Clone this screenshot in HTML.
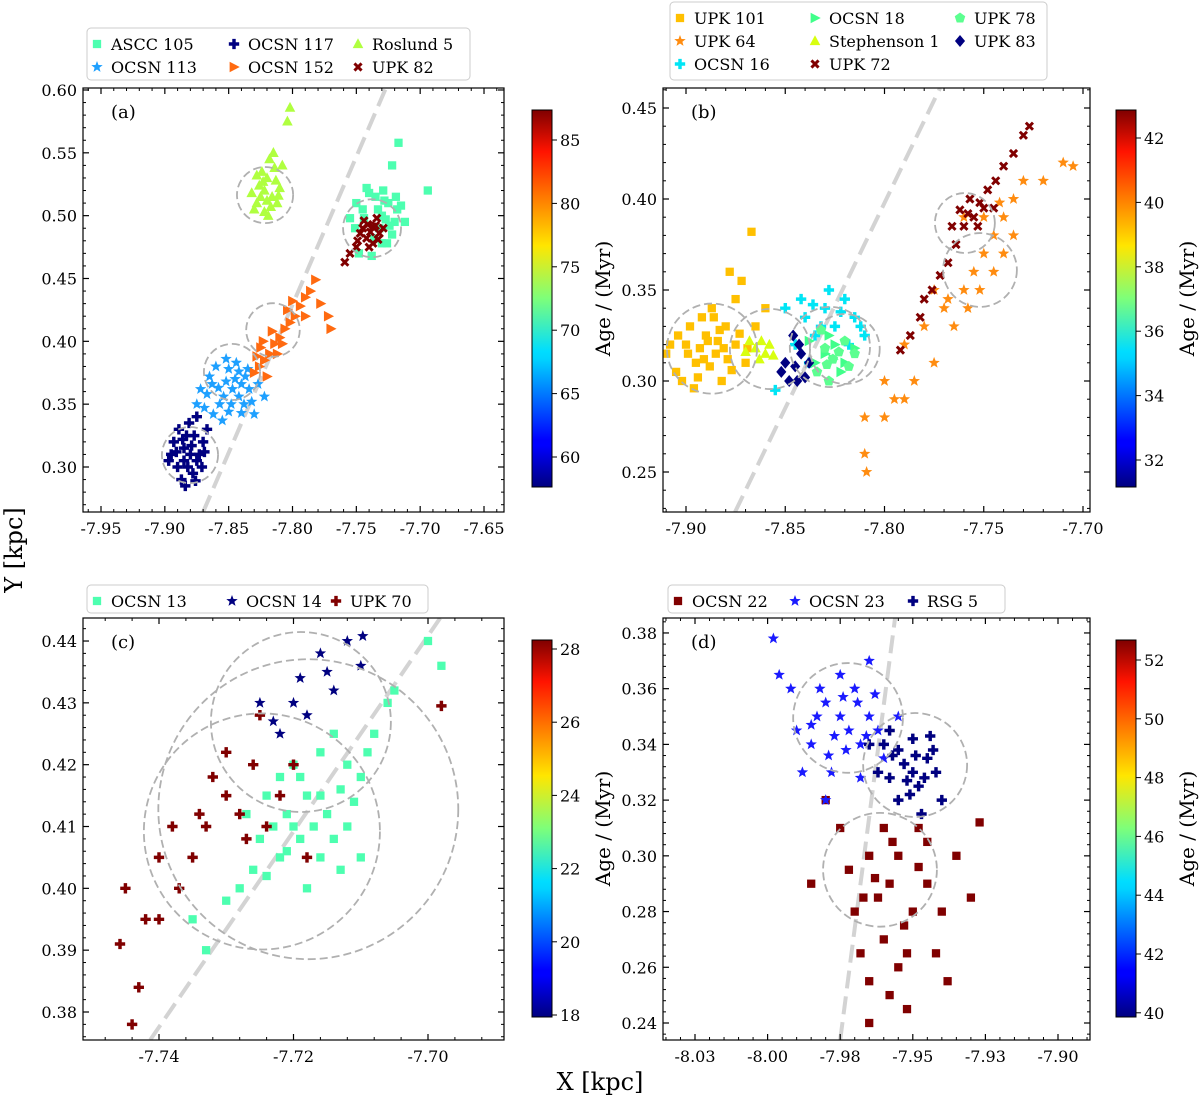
<!DOCTYPE html>
<html><head><meta charset="utf-8"><style>
html,body{margin:0;padding:0;background:#fff;}
svg{display:block;font-family:"DejaVu Serif","Liberation Serif",serif;}
</style></head><body>
<svg id="chart" width="1200" height="1103" viewBox="0 0 1200 1103" xmlns="http://www.w3.org/2000/svg">
<defs>
<linearGradient id="jet" x1="0" y1="1" x2="0" y2="0">
<stop offset="0" stop-color="#00007f"/><stop offset="0.11" stop-color="#0000ff"/><stop offset="0.125" stop-color="#0000ff"/>
<stop offset="0.34" stop-color="#00d4ff"/><stop offset="0.36" stop-color="#0df"/><stop offset="0.5" stop-color="#7dff7a"/>
<stop offset="0.64" stop-color="#ffe600"/><stop offset="0.89" stop-color="#ff1300"/><stop offset="1" stop-color="#7f0000"/>
</linearGradient>
<clipPath id="clipA"><rect x="83" y="88" width="421" height="424"/></clipPath>
<clipPath id="clipB"><rect x="663" y="88" width="427" height="424"/></clipPath>
<clipPath id="clipC"><rect x="83" y="618" width="421" height="422"/></clipPath>
<clipPath id="clipD"><rect x="663" y="618" width="427" height="422"/></clipPath>
</defs>
<g id="root"></g>
<text x="600" y="1090" font-size="24" text-anchor="middle">X [kpc]</text>
<text x="0" y="0" font-size="24" text-anchor="middle" transform="translate(22,550) rotate(-90)">Y [kpc]</text>
</svg>
<script>
// ---------- Panel (a) data ----------
const ros5 = [[-7.822,0.52],[-7.828,0.51],[-7.816,0.515],[-7.82,0.53],[-7.83,0.505],[-7.812,0.51],[-7.824,0.535],[-7.818,0.545],[-7.832,0.518],[-7.81,0.522],[-7.822,0.503],[-7.814,0.538],[-7.826,0.524],[-7.82,0.512],[-7.802,0.586],[-7.804,0.575],[-7.815,0.55],[-7.828,0.532],[-7.819,0.5],[-7.825,0.515],[-7.813,0.528],[-7.808,0.54],[-7.817,0.507],[-7.823,0.527],[-7.811,0.516]];
const ascc105 = [[-7.73,0.5],[-7.725,0.51],[-7.735,0.515],[-7.72,0.495],[-7.717,0.558],[-7.694,0.52],[-7.745,0.505],[-7.73,0.478],[-7.722,0.485],[-7.75,0.51],[-7.755,0.498],[-7.728,0.512],[-7.718,0.505],[-7.74,0.518],[-7.732,0.49],[-7.722,0.54],[-7.715,0.508],[-7.748,0.47],[-7.738,0.468],[-7.727,0.497],[-7.712,0.495],[-7.742,0.522],[-7.733,0.505],[-7.724,0.492],[-7.736,0.482],[-7.744,0.498],[-7.719,0.515],[-7.729,0.52],[-7.751,0.49],[-7.726,0.478]];
const upk82 = [[-7.739,0.487],[-7.742,0.482],[-7.735,0.492],[-7.745,0.49],[-7.732,0.486],[-7.737,0.478],[-7.744,0.496],[-7.749,0.48],[-7.755,0.47],[-7.759,0.463],[-7.734,0.498],[-7.74,0.475],[-7.729,0.49],[-7.747,0.486],[-7.737,0.491],[-7.75,0.475],[-7.741,0.493],[-7.733,0.481]];
const ocsn152 = [[-7.83,0.375],[-7.826,0.38],[-7.822,0.385],[-7.818,0.39],[-7.825,0.395],[-7.814,0.398],[-7.81,0.403],[-7.806,0.41],[-7.802,0.415],[-7.798,0.42],[-7.794,0.428],[-7.79,0.435],[-7.786,0.44],[-7.782,0.449],[-7.778,0.43],[-7.772,0.42],[-7.77,0.41],[-7.812,0.39],[-7.82,0.372],[-7.808,0.398],[-7.8,0.432],[-7.828,0.388],[-7.79,0.42],[-7.816,0.408],[-7.804,0.425],[-7.823,0.4]];
const ocsn113 = [[-7.847,0.362],[-7.852,0.368],[-7.842,0.356],[-7.857,0.35],[-7.837,0.372],[-7.862,0.342],[-7.832,0.352],[-7.85,0.378],[-7.867,0.358],[-7.844,0.383],[-7.827,0.366],[-7.855,0.337],[-7.872,0.362],[-7.84,0.343],[-7.86,0.38],[-7.834,0.362],[-7.865,0.372],[-7.822,0.356],[-7.848,0.35],[-7.852,0.386],[-7.875,0.35],[-7.83,0.342],[-7.84,0.366],[-7.858,0.363],[-7.845,0.37],[-7.854,0.356],[-7.838,0.35],[-7.863,0.366],[-7.85,0.344],[-7.842,0.376],[-7.869,0.347],[-7.835,0.378]];
const ocsn117 = [[-7.88,0.31],[-7.885,0.315],[-7.875,0.305],[-7.89,0.3],[-7.87,0.32],[-7.883,0.325],[-7.895,0.31],[-7.878,0.295],[-7.873,0.31],[-7.887,0.29],[-7.881,0.335],[-7.893,0.32],[-7.867,0.33],[-7.885,0.305],[-7.875,0.34],[-7.897,0.305],[-7.871,0.3],[-7.889,0.33],[-7.879,0.317],[-7.884,0.285],[-7.877,0.325],[-7.891,0.312],[-7.882,0.3],[-7.869,0.312],[-7.886,0.322],[-7.876,0.289]];
const circlesA = [[-7.8215,0.5164,0.022],[-7.7377,0.490,0.0227],[-7.8153,0.409,0.021],[-7.8474,0.3756,0.022],[-7.8803,0.3095,0.022]];
const lineA = [[-7.870,0.2642],[-7.7268,0.6016]];
const xTicksA = [-7.95,-7.90,-7.85,-7.80,-7.75,-7.70,-7.65];
const yTicksA = [0.30,0.35,0.40,0.45,0.50,0.55,0.60];
const cbTicksA = [60,65,70,75,80,85];

// ---------- Panel (b) data ----------
const upk101 = [[-7.9,0.32],[-7.895,0.31],[-7.89,0.325],[-7.885,0.315],[-7.88,0.33],[-7.875,0.32],[-7.905,0.305],[-7.91,0.315],[-7.87,0.31],[-7.892,0.335],[-7.882,0.3],[-7.898,0.33],[-7.887,0.34],[-7.875,0.345],[-7.867,0.382],[-7.878,0.36],[-7.915,0.33],[-7.902,0.3],[-7.865,0.33],[-7.893,0.318],[-7.872,0.355],[-7.884,0.322],[-7.908,0.32],[-7.896,0.296],[-7.86,0.34],[-7.888,0.308],[-7.879,0.312],[-7.891,0.312],[-7.883,0.328],[-7.877,0.306],[-7.899,0.315],[-7.873,0.326],[-7.886,0.335],[-7.894,0.302],[-7.881,0.318],[-7.904,0.325],[-7.869,0.318],[-7.889,0.322]];
const upk64 = [[-7.81,0.28],[-7.8,0.28],[-7.795,0.29],[-7.8,0.3],[-7.79,0.32],[-7.785,0.3],[-7.78,0.33],[-7.775,0.31],[-7.77,0.34],[-7.765,0.33],[-7.76,0.35],[-7.755,0.36],[-7.75,0.37],[-7.745,0.38],[-7.74,0.39],[-7.735,0.4],[-7.73,0.41],[-7.72,0.41],[-7.71,0.42],[-7.705,0.418],[-7.81,0.26],[-7.809,0.25],[-7.79,0.29],[-7.775,0.35],[-7.76,0.39],[-7.75,0.39],[-7.745,0.36],[-7.74,0.37],[-7.735,0.38],[-7.768,0.345],[-7.758,0.34],[-7.752,0.35],[-7.742,0.398]];
const ocsn16 = [[-7.835,0.325],[-7.84,0.335],[-7.83,0.34],[-7.825,0.33],[-7.845,0.32],[-7.82,0.345],[-7.828,0.35],[-7.815,0.335],[-7.81,0.325],[-7.85,0.34],[-7.838,0.31],[-7.855,0.295],[-7.818,0.32],[-7.842,0.345],[-7.812,0.33],[-7.832,0.33],[-7.822,0.338],[-7.836,0.342]];
const ocsn18 = [[-7.83,0.315],[-7.825,0.32],[-7.835,0.31],[-7.82,0.31],[-7.828,0.325],[-7.815,0.318],[-7.838,0.322],[-7.822,0.305],[-7.826,0.312]];
const steph1 = [[-7.865,0.318],[-7.86,0.315],[-7.868,0.322],[-7.858,0.32],[-7.863,0.312],[-7.87,0.316],[-7.856,0.314],[-7.862,0.322]];
const upk72 = [[-7.792,0.317],[-7.787,0.325],[-7.782,0.335],[-7.78,0.345],[-7.776,0.35],[-7.772,0.358],[-7.768,0.365],[-7.764,0.375],[-7.76,0.385],[-7.762,0.394],[-7.755,0.39],[-7.752,0.398],[-7.748,0.405],[-7.744,0.41],[-7.74,0.418],[-7.735,0.425],[-7.757,0.4],[-7.766,0.385],[-7.75,0.395],[-7.73,0.435],[-7.727,0.44],[-7.745,0.395],[-7.758,0.392],[-7.753,0.385]];
const upk78 = [[-7.83,0.318],[-7.826,0.312],[-7.834,0.305],[-7.82,0.322],[-7.818,0.308],[-7.828,0.3],[-7.815,0.315],[-7.832,0.328],[-7.823,0.316],[-7.829,0.309]];
const upk83 = [[-7.845,0.308],[-7.848,0.3],[-7.842,0.315],[-7.85,0.31],[-7.84,0.302],[-7.843,0.32],[-7.852,0.305],[-7.838,0.31],[-7.846,0.325],[-7.844,0.3]];
const circlesB = [[-7.8869,0.3178,0.0227],[-7.8577,0.3176,0.0202],[-7.8275,0.3187,0.0202],[-7.82,0.3176,0.0176],[-7.7595,0.3868,0.0151],[-7.7519,0.361,0.0186]];
const lineB = [[-7.8753,0.228],[-7.772,0.461]];
const xTicksB = [-7.90,-7.85,-7.80,-7.75,-7.70];
const yTicksB = [0.25,0.30,0.35,0.40,0.45];
const cbTicksB = [32,34,36,38,40,42];

// ---------- Panel (c) data ----------
const ocsn13 = [[-7.72,0.41],[-7.718,0.415],[-7.715,0.412],[-7.722,0.405],[-7.725,0.408],[-7.712,0.42],[-7.71,0.418],[-7.716,0.405],[-7.72,0.42],[-7.714,0.425],[-7.708,0.425],[-7.728,0.4],[-7.73,0.398],[-7.724,0.415],[-7.706,0.43],[-7.718,0.4],[-7.712,0.41],[-7.722,0.418],[-7.735,0.395],[-7.733,0.39],[-7.7,0.44],[-7.698,0.436],[-7.705,0.432],[-7.71,0.405],[-7.726,0.403],[-7.716,0.422],[-7.719,0.408],[-7.713,0.416],[-7.721,0.412],[-7.717,0.41],[-7.723,0.41],[-7.714,0.408],[-7.711,0.414],[-7.719,0.418],[-7.724,0.402],[-7.716,0.415],[-7.709,0.422],[-7.721,0.406],[-7.727,0.412],[-7.713,0.403]];
const ocsn14 = [[-7.72,0.43],[-7.715,0.435],[-7.712,0.44],[-7.7097,0.4408],[-7.71,0.436],[-7.722,0.425],[-7.718,0.428],[-7.725,0.43],[-7.714,0.432],[-7.716,0.438],[-7.719,0.434],[-7.723,0.427]];
const upk70 = [[-7.744,0.378],[-7.7458,0.391],[-7.743,0.384],[-7.745,0.4],[-7.742,0.395],[-7.74,0.405],[-7.738,0.41],[-7.735,0.405],[-7.733,0.41],[-7.73,0.415],[-7.728,0.412],[-7.726,0.42],[-7.724,0.41],[-7.722,0.415],[-7.72,0.42],[-7.718,0.405],[-7.73,0.422],[-7.725,0.428],[-7.74,0.395],[-7.737,0.4],[-7.732,0.418],[-7.698,0.4295],[-7.727,0.408],[-7.734,0.412]];
const circlesC = [[-7.7189,0.4269,0.01338],[-7.7178,0.4128,0.0223],[-7.7247,0.4092,0.01755]];
const lineC = [[-7.7413,0.3755],[-7.6982,0.4437]];
const xTicksC = [-7.74,-7.72,-7.70];
const yTicksC = [0.38,0.39,0.40,0.41,0.42,0.43,0.44];
const cbTicksC = [20,22,24,26,28,18];

// ---------- Panel (d) data ----------
const ocsn22 = [[-7.958,0.29],[-7.955,0.3],[-7.962,0.285],[-7.95,0.28],[-7.965,0.3],[-7.945,0.29],[-7.96,0.27],[-7.955,0.26],[-7.965,0.255],[-7.952,0.265],[-7.94,0.28],[-7.935,0.3],[-7.97,0.28],[-7.975,0.31],[-7.98,0.32],[-7.948,0.31],[-7.958,0.25],[-7.965,0.24],[-7.942,0.265],[-7.93,0.285],[-7.927,0.312],[-7.96,0.31],[-7.985,0.29],[-7.938,0.255],[-7.952,0.245],[-7.968,0.265],[-7.945,0.305],[-7.972,0.295],[-7.963,0.292],[-7.953,0.275],[-7.948,0.296],[-7.957,0.305],[-7.967,0.285]];
const ocsn23 = [[-7.972,0.345],[-7.975,0.35],[-7.968,0.34],[-7.98,0.355],[-7.965,0.35],[-7.985,0.34],[-7.97,0.36],[-7.978,0.33],[-7.962,0.345],[-7.99,0.345],[-7.975,0.365],[-7.968,0.328],[-7.96,0.335],[-7.983,0.35],[-7.992,0.36],[-7.998,0.378],[-7.996,0.365],[-7.965,0.37],[-7.98,0.32],[-7.955,0.35],[-7.988,0.33],[-7.973,0.338],[-7.977,0.343],[-7.969,0.355],[-7.982,0.36],[-7.966,0.343],[-7.974,0.357],[-7.985,0.347],[-7.963,0.358],[-7.979,0.336]];
const rsg5 = [[-7.953,0.333],[-7.95,0.33],[-7.957,0.336],[-7.948,0.325],[-7.96,0.34],[-7.945,0.335],[-7.955,0.32],[-7.942,0.33],[-7.962,0.33],[-7.95,0.342],[-7.958,0.345],[-7.94,0.32],[-7.947,0.315],[-7.965,0.34],[-7.952,0.327],[-7.944,0.343],[-7.955,0.338],[-7.949,0.336],[-7.946,0.328],[-7.958,0.328],[-7.951,0.322],[-7.943,0.338]];
const circlesD = [[-7.9723,0.3495,0.0189],[-7.9492,0.3326,0.0179],[-7.9613,0.295,0.0196]];
const lineD = [[-7.975,0.2339],[-7.9561,0.3854]];
const xTicksD = [-8.025,-8.0,-7.975,-7.95,-7.925,-7.9];
const xTickLabelsD = ["-8.03","-8.00","-7.98","-7.95","-7.93","-7.90"];
const yTicksD = [0.24,0.26,0.28,0.30,0.32,0.34,0.36,0.38];
const cbTicksD = [40,42,44,46,48,50,52];

const NS = "http://www.w3.org/2000/svg";
const root = document.getElementById('root');
function mk(tag, attrs, parent){ const e=document.createElementNS(NS,tag); for(const k in attrs) e.setAttribute(k,attrs[k]); (parent||root).appendChild(e); return e; }

function markerPath(type){
  switch(type){
    case 'square': return 'M-3.6,-3.6H3.6V3.6H-3.6Z';
    case 'star': { let p=''; for(let i=0;i<10;i++){const r=i%2?2.2:5.2; const a=-Math.PI/2+i*Math.PI/5; p+=(i?'L':'M')+(r*Math.cos(a)).toFixed(2)+','+(r*Math.sin(a)).toFixed(2);} return p+'Z'; }
    case 'plus': return 'M-1.5,-4.5H1.5V-1.5H4.5V1.5H1.5V4.5H-1.5V1.5H-4.5V-1.5H-1.5Z';
    case 'tri': return 'M0,-5L4.6,3.6L-4.6,3.6Z';
    case 'tri-r': return 'M-3.8,-4.6L5,0L-3.8,4.6Z';
    case 'x': return 'M-4,-2.2L-2.2,-4L0,-1.8L2.2,-4L4,-2.2L1.8,0L4,2.2L2.2,4L0,1.8L-2.2,4L-4,2.2L-1.8,0Z';
    case 'diamond': return 'M0,-5.2L4.4,0L0,5.2L-4.4,0Z';
    case 'pent': { let p=''; for(let i=0;i<5;i++){const a=-Math.PI/2+i*2*Math.PI/5; p+=(i?'L':'M')+(4.8*Math.cos(a)).toFixed(2)+','+(4.8*Math.sin(a)).toFixed(2);} return p+'Z'; }
  }
}

function drawPanel(P){
  const g = mk('g',{});
  
  
  const bx=P.box;
  const gc = mk('g',{'clip-path':'url(#'+P.clip+')'},g);
  const ln = mk('line',{x1:P.sx(P.line[0][0]),y1:P.sy(P.line[0][1]),x2:P.sx(P.line[1][0]),y2:P.sy(P.line[1][1]),stroke:'#d3d3d3','stroke-width':4,'stroke-dasharray':'18,8'},gc);
  
  
  P.series.forEach(s=>{
    const sg = mk('g',{fill:s.color},gc);
    
    
    const d = markerPath(s.m);
    s.data.forEach(pt=>{
      const p = mk('path',{d:d,transform:'translate('+P.sx(pt[0]).toFixed(1)+','+P.sy(pt[1]).toFixed(1)+') scale(1.15)'},sg);
      
      
    });
  });
  P.circles.forEach(c=>{
    const r = P.sx(c[0]+c[2])-P.sx(c[0]);
    const ci = mk('circle',{cx:P.sx(c[0]),cy:P.sy(c[1]),r:r,fill:'none',stroke:'#b0b0b0','stroke-width':1.8,'stroke-dasharray':'8,4'},gc);
    
    
  });
  const fr = mk('rect',{x:bx[0],y:bx[1],width:bx[2]-bx[0],height:bx[3]-bx[1],fill:'none',stroke:'#000','stroke-width':1.2},g);
  
  
  const xs=P.xTicks, step=xs[1]-xs[0];
  for(let i=-1;i<xs.length;i++){ for(let k=1;k<5;k++){ const v=xs[0]+(i+k/5)*step; const x=P.sx(v); if(x>bx[0]&&x<bx[2]){ mk('line',{x1:x,x2:x,y1:bx[3],y2:bx[3]-3,stroke:'#000'},g); mk('line',{x1:x,x2:x,y1:bx[1],y2:bx[1]+3,stroke:'#000'},g);} } }
  xs.forEach((v,i)=>{ const x=P.sx(v);
    mk('line',{x1:x,x2:x,y1:bx[3],y2:bx[3]-6,stroke:'#000','stroke-width':1.2},g);
    mk('line',{x1:x,x2:x,y1:bx[1],y2:bx[1]+6,stroke:'#000','stroke-width':1.2},g);
    const t=mk('text',{x:x,y:bx[3]+22,'font-size':16,'text-anchor':'middle'},g);
    t.textContent = P.xLabels ? P.xLabels[i] : v.toFixed(2);
    
    
  });
  const ys=P.yTicks, ystep=ys[1]-ys[0];
  for(let i=-1;i<ys.length;i++){ for(let k=1;k<5;k++){ const v=ys[0]+(i+k/5)*ystep; const y=P.sy(v); if(y>bx[1]&&y<bx[3]){ mk('line',{x1:bx[0],x2:bx[0]+3,y1:y,y2:y,stroke:'#000'},g); mk('line',{x1:bx[2],x2:bx[2]-3,y1:y,y2:y,stroke:'#000'},g);} } }
  ys.forEach(v=>{ const y=P.sy(v);
    mk('line',{x1:bx[0],x2:bx[0]+6,y1:y,y2:y,stroke:'#000','stroke-width':1.2},g);
    mk('line',{x1:bx[2],x2:bx[2]-6,y1:y,y2:y,stroke:'#000','stroke-width':1.2},g);
    const t=mk('text',{x:bx[0]-6,y:y+6,'font-size':16,'text-anchor':'end'},g);
    t.textContent = v.toFixed(2);
    
    
  });
  const pl=mk('text',{x:bx[0]+28,y:bx[1]+30,'font-size':18},g);
  pl.textContent=P.tag;
  
  
  const cb=P.cb;
  const cr=mk('rect',{x:cb.x,y:cb.top,width:20,height:cb.bot-cb.top,fill:'url(#jet)',stroke:'#000','stroke-width':1},g);
  
  
  P.cbTicks.forEach(v=>{ const y=cb.y(v);
    mk('line',{x1:cb.x+20,x2:cb.x+25,y1:y,y2:y,stroke:'#000'},g);
    const t=mk('text',{x:cb.x+28,y:y+6,'font-size':16},g);
    t.textContent=String(v);
    
    
  });
  const ct=mk('text',{'font-size':20,'text-anchor':'middle',transform:'translate('+(cb.x+78)+','+((cb.top+cb.bot)/2)+') rotate(-90)'},g);
  ct.textContent='Age / (Myr)';
  
  
  const L=P.legend;
  const lr=mk('rect',{x:L.x,y:L.y,width:L.w,height:L.h,rx:4,fill:'#fff',stroke:'#ccc','stroke-width':1},g);
  
  
  P.series.forEach((s,i)=>{
    const col=Math.floor(i/L.rows), row=i%L.rows;
    const lx=L.x+10+L.cols[col], ly=L.y+16+row*23;
    const m=mk('path',{d:markerPath(s.m),fill:s.color,transform:'translate('+lx+','+ly+') scale(1.15)'},g);
    
    
    const t=mk('text',{x:lx+14,y:ly+6,'font-size':16},g);
    t.textContent=s.label;
    
    
  });
}

drawPanel({name:'panel-a',tag:'(a)',clip:'clipA',box:[83,88,504,512],
  sx:v=>101+(v+7.95)*1276.7, sy:v=>467-(v-0.30)*1256.7,
  xTicks:xTicksA,yTicks:yTicksA,cbTicks:cbTicksA,line:lineA,circles:circlesA,
  cb:{x:532,top:110,bot:487,y:v=>140+(85-v)*12.68},
  legend:{x:87,y:28,w:383,h:52,rows:2,cols:[0,137,261]},
  series:[{label:'ASCC 105',m:'square',color:'#4dffb0',data:ascc105},{label:'OCSN 113',m:'star',color:'#1ea0ff',data:ocsn113},
    {label:'OCSN 117',m:'plus',color:'#000080',data:ocsn117},{label:'OCSN 152',m:'tri-r',color:'#ff6a10',data:ocsn152},
    {label:'Roslund 5',m:'tri',color:'#b0ff40',data:ros5},{label:'UPK 82',m:'x',color:'#800000',data:upk82}]});

drawPanel({name:'panel-b',tag:'(b)',clip:'clipB',box:[663,88,1090,512],
  sx:v=>686+(v+7.9)*1985, sy:v=>472-(v-0.25)*1820,
  xTicks:xTicksB,yTicks:yTicksB,cbTicks:cbTicksB,line:lineB,circles:circlesB,
  cb:{x:1116,top:110,bot:487,y:v=>138+(42-v)*32.2},
  legend:{x:670,y:2,w:377,h:78,rows:3,cols:[0,135,280]},
  series:[{label:'UPK 101',m:'square',color:'#ffc000',data:upk101},{label:'UPK 64',m:'star',color:'#ff8c10',data:upk64},
    {label:'OCSN 16',m:'plus',color:'#00e5f5',data:ocsn16},{label:'OCSN 18',m:'tri-r',color:'#40ff8a',data:ocsn18},
    {label:'Stephenson 1',m:'tri',color:'#d8ff10',data:steph1},{label:'UPK 72',m:'x',color:'#800000',data:upk72},
    {label:'UPK 78',m:'pent',color:'#5cff90',data:upk78},{label:'UPK 83',m:'diamond',color:'#000080',data:upk83}]});

drawPanel({name:'panel-c',tag:'(c)',clip:'clipC',box:[83,618,504,1040],
  sx:v=>159+(v+7.74)*6725, sy:v=>1012-(v-0.38)*6183,
  xTicks:xTicksC,yTicks:yTicksC,cbTicks:cbTicksC,line:lineC,circles:circlesC,
  cb:{x:532,top:640,bot:1017,y:v=>649+(28-v)*36.6},
  legend:{x:87,y:585,w:341,h:28,rows:1,cols:[0,135,239]},
  series:[{label:'OCSN 13',m:'square',color:'#4dffb0',data:ocsn13},{label:'OCSN 14',m:'star',color:'#000080',data:ocsn14},
    {label:'UPK 70',m:'plus',color:'#800000',data:upk70}]});

drawPanel({name:'panel-d',tag:'(d)',clip:'clipD',box:[663,618,1090,1040],
  sx:v=>695+(v+8.025)*2904, sy:v=>1023-(v-0.24)*2786,
  xTicks:xTicksD,xLabels:xTickLabelsD,yTicks:yTicksD,cbTicks:cbTicksD,line:lineD,circles:circlesD,
  cb:{x:1116,top:640,bot:1017,y:v=>660+(52-v)*29.4},
  legend:{x:668,y:585,w:337,h:28,rows:1,cols:[0,117,235]},
  series:[{label:'OCSN 22',m:'square',color:'#800000',data:ocsn22},{label:'OCSN 23',m:'star',color:'#1a1aff',data:ocsn23},
    {label:'RSG 5',m:'plus',color:'#000080',data:rsg5}]});
</script>
</body></html>
